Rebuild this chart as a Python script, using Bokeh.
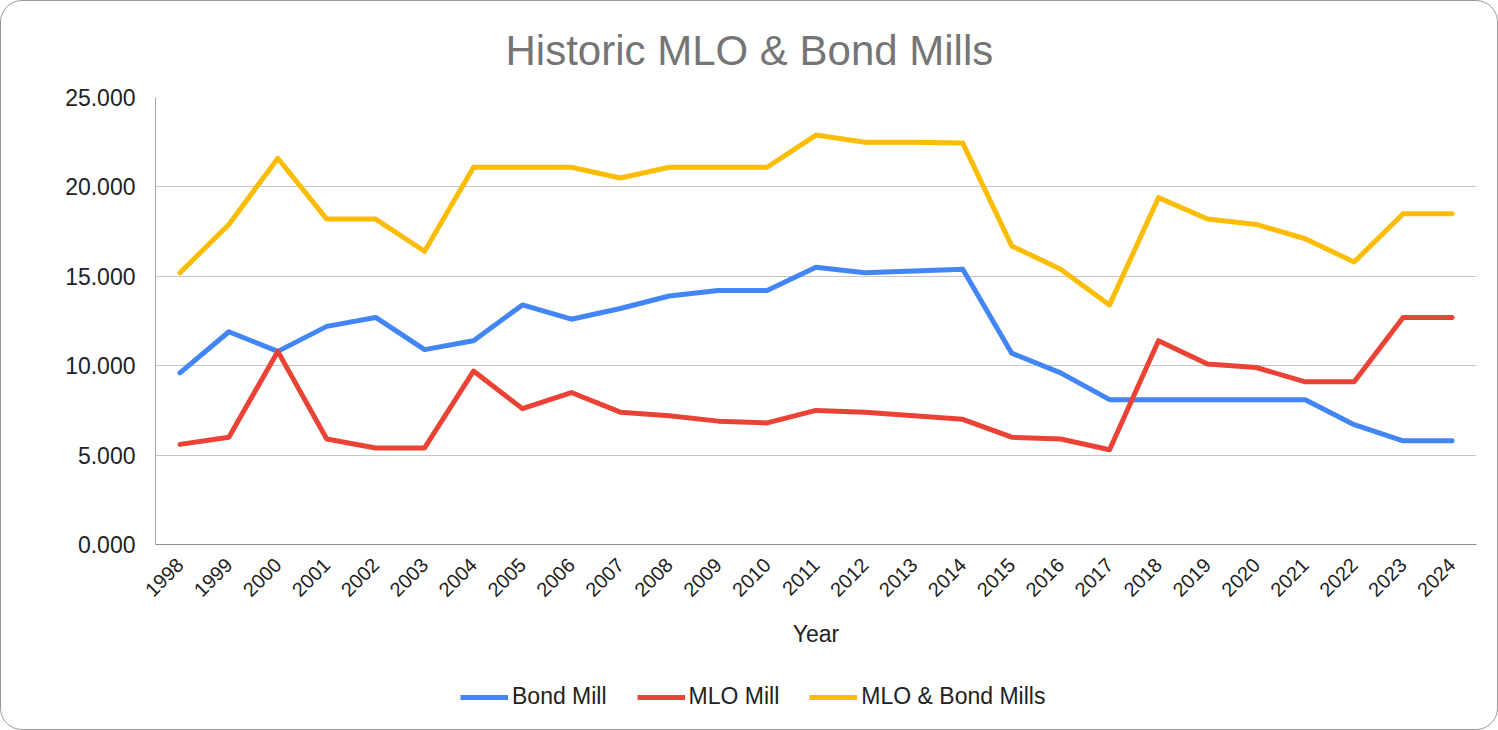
from math import pi
from bokeh.plotting import figure
from bokeh.layouts import column
from bokeh.models import (FactorRange, Range1d, NumeralTickFormatter, FixedTicker,
                          Legend, LegendItem)
from bokeh.embed import file_html
from bokeh.resources import INLINE

years = ["1998", "1999", "2000", "2001", "2002", "2003", "2004", "2005", "2006",
         "2007", "2008", "2009", "2010", "2011", "2012", "2013", "2014", "2015",
         "2016", "2017", "2018", "2019", "2020", "2021", "2022", "2023", "2024"]

bond_mill = [9.6, 11.9, 10.8, 12.2, 12.7, 10.9, 11.4, 13.4, 12.6,
             13.2, 13.9, 14.2, 14.2, 15.5, 15.2, 15.3, 15.4, 10.7,
             9.6, 8.1, 8.1, 8.1, 8.1, 8.1, 6.7, 5.8, 5.8]

mlo_mill = [5.6, 6.0, 10.8, 5.9, 5.4, 5.4, 9.7, 7.6, 8.5,
            7.4, 7.2, 6.9, 6.8, 7.5, 7.4, 7.2, 7.0, 6.0,
            5.9, 5.3, 11.4, 10.1, 9.9, 9.1, 9.1, 12.7, 12.7]

mlo_bond_mills = [15.2, 17.9, 21.6, 18.2, 18.2, 16.4, 21.1, 21.1, 21.1,
                  20.5, 21.1, 21.1, 21.1, 22.9, 22.5, 22.5, 22.45, 16.7,
                  15.4, 13.4, 19.4, 18.2, 17.9, 17.1, 15.8, 18.5, 18.5]

series_names = ["Bond Mill", "MLO Mill", "MLO & Bond Mills"]
series_colors = ["#4285F4", "#EA4335", "#FBBC04"]

y_ticks = [0, 5, 10, 15, 20, 25]

FONT = "Liberation Sans"

# ---------------- main chart ----------------
p = figure(x_range=FactorRange(*years), y_range=Range1d(0, 25),
           width=1496, height=665, output_backend="svg", toolbar_location=None,
           min_border_left=154, min_border_right=21, min_border_top=96,
           min_border_bottom=122)

p.border_fill_color = None
p.background_fill_color = "white"
p.outline_line_color = None

p.title.text = "Historic MLO & Bond Mills"
p.title.align = "left"
p.title.offset = 350
p.title.vertical_align = "top"
p.title.text_font = FONT
p.title.text_font_size = "42px"
p.title.text_font_style = "normal"
p.title.text_color = "#757575"
p.title.standoff = 44

all_series = [bond_mill, mlo_mill, mlo_bond_mills]
for vals, col in zip(all_series, series_colors):
    p.line(years, vals, line_color=col, line_width=5,
           line_join="round", line_cap="round")

p.yaxis.ticker = FixedTicker(ticks=y_ticks)
p.yaxis.formatter = NumeralTickFormatter(format="0.000")
p.yaxis.major_tick_line_color = None
p.yaxis.minor_tick_line_color = None
p.yaxis.major_tick_out = 0
p.yaxis.major_tick_in = 0
p.yaxis.major_label_standoff = 20
p.yaxis.axis_line_color = "#a6a6a6"
p.yaxis.major_label_text_font = FONT
p.yaxis.major_label_text_font_size = "23px"
p.yaxis.major_label_text_color = "#222222"

p.xaxis.major_label_orientation = pi / 4
p.xaxis.major_tick_line_color = None
p.xaxis.minor_tick_line_color = None
p.xaxis.major_tick_out = 0
p.xaxis.major_tick_in = 0
p.xaxis.major_label_standoff = 17
p.xaxis.axis_line_color = "#8c8c8c"
p.xaxis.major_label_text_font = FONT
p.xaxis.major_label_text_font_size = "20px"
p.xaxis.major_label_text_color = "#222222"
p.xaxis.axis_label = "Year"
p.xaxis.axis_label_text_font = FONT
p.xaxis.axis_label_text_font_size = "23px"
p.xaxis.axis_label_text_font_style = "normal"
p.xaxis.axis_label_text_color = "#222222"
p.xaxis.axis_label_standoff = 15

p.xgrid.grid_line_color = None
p.ygrid.grid_line_color = "#c6c6c6"
p.ygrid.grid_line_width = 1

# ---------------- legend strip ----------------
lg = figure(x_range=FactorRange(*years), y_range=Range1d(0, 25),
            width=1496, height=63, output_backend="svg", toolbar_location=None,
            x_axis_type=None, y_axis_type=None,
            min_border_left=0, min_border_right=0, min_border_top=0,
            min_border_bottom=0)
lg.border_fill_color = None
lg.background_fill_color = None
lg.outline_line_color = None
lg.xgrid.grid_line_color = None
lg.ygrid.grid_line_color = None

items = []
for name, vals, col in zip(series_names, all_series, series_colors):
    # single-point line: draws nothing itself, only feeds the legend swatch
    r = lg.line(years[:1], vals[:1], line_color=col, line_width=5)
    items.append(LegendItem(label=name, renderers=[r]))

legend = Legend(items=items, orientation="horizontal", location=(305, 19),
                label_text_font=FONT, label_text_font_size="23px",
                label_text_color="#222222", glyph_width=48, glyph_height=22,
                label_standoff=4, spacing=30, padding=0, margin=0,
                border_line_color=None, background_fill_alpha=0)
lg.add_layout(legend, "center")

layout = column(p, lg, spacing=0)
layout.styles = {"border": "1px solid #9a9a9a", "border-radius": "22px",
                 "background-color": "white"}

open("out.html", "w").write(file_html(layout, INLINE))
